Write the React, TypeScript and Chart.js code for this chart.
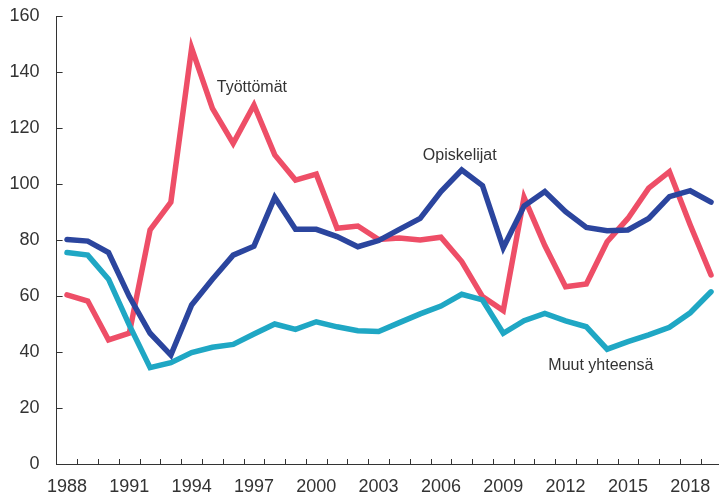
import React, { useEffect, useRef } from 'react';
import { Chart, registerables } from 'chart.js';

Chart.register(...registerables);

const years = ['1988','1989','1990','1991','1992','1993','1994','1995','1996','1997','1998','1999','2000','2001','2002','2003','2004','2005','2006','2007','2008','2009','2010','2011','2012','2013','2014','2015','2016','2017','2018','2019'];
const labeledYears = ['1988','1991','1994','1997','2000','2003','2006','2009','2012','2015','2018'];

const tyottomat = [60.4,58.2,44.3,46.7,83.6,93.5,148.5,127,114.5,128.2,110.4,101.4,103.5,84.2,85,80.2,80.7,80,81,72.3,59.8,54.8,95.2,78,63.3,64.3,79.4,87.7,98.5,104.4,85.4,67.5];
const opiskelijat = [80.2,79.6,75.5,59.8,46.7,38.9,56.8,66,74.6,77.8,95.2,83.8,83.8,81.2,77.6,79.8,83.8,87.7,97.3,105,99.4,77.2,92.1,97.3,90.1,84.5,83.3,83.6,87.7,95.5,97.6,93.5];
const muut = [75.5,74.6,66,49.6,34.4,36.2,39.8,41.7,42.7,46.4,50,48.1,50.8,49,47.6,47.3,50.5,53.6,56.4,60.6,58.6,46.7,51.2,53.8,51.1,49,41,43.7,46.1,48.8,54,61.5];

const yTickValues = [0,20,40,60,80,100,120,140,160];

const seriesLabels = [
  { text: 'Työttömät', x: 7.21, y: 134.3 },
  { text: 'Opiskelijat', x: 17.13, y: 110 },
  { text: 'Muut yhteensä', x: 23.17, y: 35 },
];

const FONT = '"Liberation Sans", Arial, sans-serif';
const TEXT_COLOR = '#333333';

const decorPlugin = {
  id: 'decor',
  beforeDatasetsDraw(chart: any) {
    const ctx = chart.ctx;
    const xs = chart.scales.x;
    const ys = chart.scales.y;
    const area = chart.chartArea;
    ctx.save();
    ctx.strokeStyle = TEXT_COLOR;
    ctx.lineWidth = 1;
    ctx.beginPath();
    for (const v of yTickValues) {
      const py = Math.round(ys.getPixelForValue(v)) + 0.5;
      ctx.moveTo(area.left, py);
      ctx.lineTo(area.left + 6, py);
    }
    for (let i = 1; i <= years.length; i++) {
      const px = Math.round(xs.getPixelForValue(i - 0.5)) + 0.5;
      ctx.moveTo(px, area.bottom);
      ctx.lineTo(px, area.bottom - 5);
    }
    ctx.stroke();
    ctx.restore();
  },
  afterDatasetsDraw(chart: any) {
    const ctx = chart.ctx;
    const xs = chart.scales.x;
    const ys = chart.scales.y;
    ctx.save();
    ctx.fillStyle = TEXT_COLOR;
    ctx.font = `16px ${FONT}`;
    ctx.textAlign = 'left';
    ctx.textBaseline = 'middle';
    for (const l of seriesLabels) {
      ctx.fillText(l.text, xs.getPixelForValue(l.x), ys.getPixelForValue(l.y));
    }
    ctx.restore();
  },
};

export default function App() {
  const ref = useRef<HTMLCanvasElement | null>(null);

  useEffect(() => {
    if (!ref.current) return;
    const chart = new Chart(ref.current, {
      type: 'line',
      data: {
        labels: years,
        datasets: [
          { label: 'Opiskelijat', data: opiskelijat, borderColor: '#2B459E', borderWidth: 5.5, pointRadius: 0, tension: 0, borderCapStyle: 'round', borderJoinStyle: 'miter', fill: false },
          { label: 'Muut yhteensä', data: muut, borderColor: '#1FA7C4', borderWidth: 5.5, pointRadius: 0, tension: 0, borderCapStyle: 'round', borderJoinStyle: 'miter', fill: false },
          { label: 'Työttömät', data: tyottomat, borderColor: '#EE4E67', borderWidth: 5.5, pointRadius: 0, tension: 0, borderCapStyle: 'round', borderJoinStyle: 'miter', fill: false },
        ],
      },
      options: {
        animation: false,
        responsive: false,
        devicePixelRatio: 1,
        layout: { padding: { top: 16, right: 18.6, bottom: 0, left: 0 } },
        plugins: { legend: { display: false }, tooltip: { enabled: false } },
        scales: {
          x: {
            type: 'category',
            offset: true,
            grid: { display: true, drawOnChartArea: false, drawTicks: false, offset: true },
            border: { display: true, color: TEXT_COLOR, width: 1 },
            ticks: {
              autoSkip: false,
              maxRotation: 0,
              padding: 12,
              color: TEXT_COLOR,
              font: { family: FONT, size: 18 },
              callback: function (this: any, value: any) {
                const lab = years[value as number];
                return labeledYears.includes(lab) ? lab : '';
              },
            },
            afterFit: (scale: any) => { scale.height = 41; },
          },
          y: {
            min: 0,
            max: 160,
            grid: { display: true, drawOnChartArea: false, drawTicks: false },
            border: { display: true, color: TEXT_COLOR, width: 1 },
            ticks: {
              stepSize: 20,
              padding: 17,
              color: TEXT_COLOR,
              font: { family: FONT, size: 18 },
            },
            afterFit: (scale: any) => {
              scale.width = 56.6;
              scale.paddingTop = 0;
              scale.paddingBottom = 0;
            },
          },
        },
      },
      plugins: [decorPlugin],
    } as any);
    return () => chart.destroy();
  }, []);

  return (
    <div style={{ position: 'fixed', left: 0, top: 0, width: 719, height: 495, overflow: 'hidden', background: '#fff' }}>
      <canvas ref={ref} width={740} height={505} style={{ display: 'block' }} />
    </div>
  );
}
